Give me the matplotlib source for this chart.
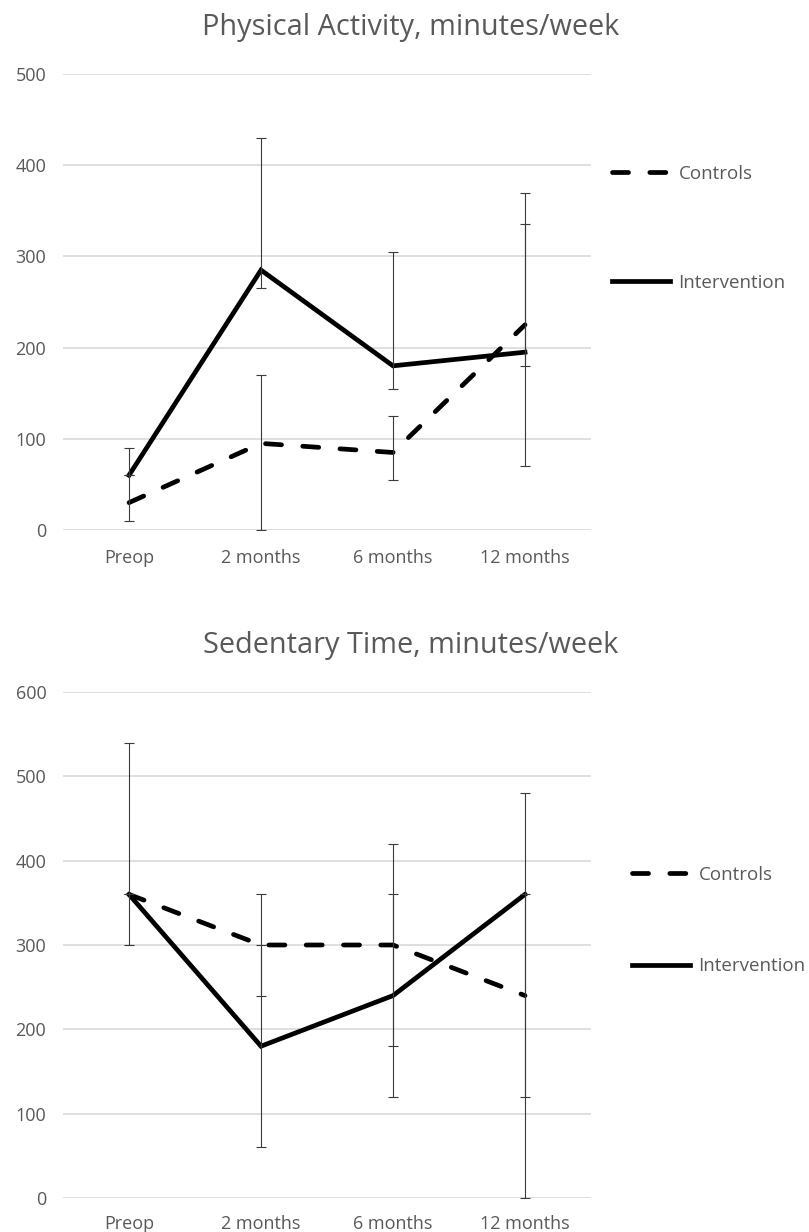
import matplotlib.pyplot as plt
from matplotlib.lines import Line2D

timepoints = ["Preop", "2 months", "6 months", "12 months"]

# physical activity, minutes/week
pa_controls = [30, 95, 85, 225]
pa_controls_lo = [10, 0, 55, 70]
pa_controls_hi = [60, 170, 125, 370]
pa_interv = [60, 285, 180, 195]
pa_interv_lo = [60, 265, 155, 180]
pa_interv_hi = [90, 430, 305, 335]

# sedentary time, minutes/week
sed_controls = [360, 300, 300, 240]
sed_controls_lo = [300, 240, 180, 120]
sed_controls_hi = [540, 360, 420, 360]
sed_interv = [360, 180, 240, 360]
sed_interv_lo = [360, 60, 120, 0]
sed_interv_hi = [360, 300, 360, 480]

plt.rcParams["font.family"] = ["Open Sans", "DejaVu Sans"]
TXT = "#595959"
GRID = "#d9d9d9"
DASH = (0, (3.4, 4.5))
LW = 3.4

W, H = 809, 1232
fig = plt.figure(figsize=(W / 100, H / 100), dpi=100)


def px_axes(left, top, right, bottom):
    return fig.add_axes([left / W, 1 - bottom / H, (right - left) / W, (bottom - top) / H])


def draw_panel(ax, title, title_y, ctrl, ctrl_lo, ctrl_hi, intv, intv_lo, intv_hi,
               ymax, legend_x, legend_top, spacing, xpad):
    x = list(range(len(timepoints)))
    ax.plot(x, ctrl, color="black", lw=LW, linestyle=DASH,
            dash_capstyle="round", zorder=3)
    ax.plot(x, intv, color="black", lw=LW, solid_joinstyle="miter", zorder=3)
    for mean, lo, hi in [(ctrl, ctrl_lo, ctrl_hi), (intv, intv_lo, intv_hi)]:
        err = [[m - l for m, l in zip(mean, lo)], [h - m for m, h in zip(mean, hi)]]
        ax.errorbar(x, mean, yerr=err, fmt="none", ecolor="#3a3a3a",
                    elinewidth=0.8, capsize=3.6, capthick=0.8, zorder=4)

    ax.set_xlim(-0.5, len(timepoints) - 0.5)
    ax.set_ylim(0, ymax)
    ax.set_yticks(range(0, ymax + 1, 100))
    ax.set_xticks(x)
    ax.set_xticklabels(timepoints)
    ax.tick_params(length=0, labelsize=13, colors=TXT)
    ax.tick_params(axis="y", pad=12)
    ax.tick_params(axis="x", pad=xpad)
    ax.grid(axis="y", color=GRID, lw=1.2)
    ax.set_axisbelow(True)
    for s in ax.spines.values():
        s.set_visible(False)

    fig.text(411 / W, 1 - title_y / H, title, ha="center", va="center",
             fontsize=20.8, color=TXT)

    handles = [
        Line2D([], [], color="black", lw=LW, linestyle=DASH, dash_capstyle="round"),
        Line2D([], [], color="black", lw=LW),
    ]
    ax.legend(handles, ["Controls", "Intervention"], loc="upper left",
              bbox_to_anchor=(legend_x / W, 1 - legend_top / H),
              bbox_transform=fig.transFigure, frameon=False, fontsize=13.5,
              labelcolor=TXT, handlelength=3.1, handletextpad=0.45,
              labelspacing=spacing, borderpad=0, borderaxespad=0)


ax1 = px_axes(63, 74, 591, 530)
draw_panel(ax1, "Physical Activity, minutes/week", 28,
           pa_controls, pa_controls_lo, pa_controls_hi,
           pa_interv, pa_interv_lo, pa_interv_hi, 500, 612, 165, 4.85, 14)

ax2 = px_axes(63, 692, 591, 1198)
draw_panel(ax2, "Sedentary Time, minutes/week", 645,
           sed_controls, sed_controls_lo, sed_controls_hi,
           sed_interv, sed_interv_lo, sed_interv_hi, 600, 632, 866, 3.9, 12)

fig.savefig("out.png", dpi=100)
